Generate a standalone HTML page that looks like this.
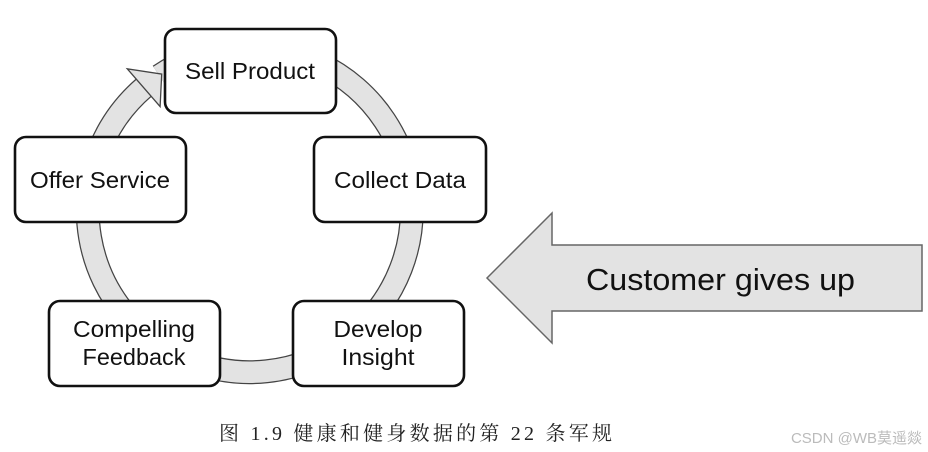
<!DOCTYPE html>
<html><head><meta charset="utf-8"><style>
body{margin:0;background:#fff;width:928px;height:452px;overflow:hidden}
</style></head><body>
<svg width="928" height="452" xmlns="http://www.w3.org/2000/svg" style="position:absolute;left:0;top:0">
<path d="M159.4,75.7 A162,162 0 1 1 143.7,87.7" fill="none" stroke="#444" stroke-width="24"/>
<path d="M159.4,75.7 A162,162 0 1 1 143.7,87.7" fill="none" stroke="#e3e3e3" stroke-width="21.5"/>
<polygon points="160.1,106.6 127.3,68.8 161.7,74.1" fill="#e3e3e3" stroke="#444" stroke-width="1.3" stroke-linejoin="miter"/>
<g fill="#fff" stroke="#111" stroke-width="2.6">
<rect x="165" y="29" width="171" height="84" rx="11"/>
<rect x="15" y="137" width="171" height="85" rx="11"/>
<rect x="314" y="137" width="172" height="85" rx="11"/>
<rect x="49" y="301" width="171" height="85" rx="11"/>
<rect x="293" y="301" width="171" height="85" rx="11"/>
</g>
<g font-family="Liberation Sans, sans-serif" font-size="23" fill="#111" text-anchor="middle" lengthAdjust="spacingAndGlyphs">
<text x="250" y="79" textLength="130" lengthAdjust="spacingAndGlyphs">Sell Product</text>
<text x="100" y="188" textLength="140" lengthAdjust="spacingAndGlyphs">Offer Service</text>
<text x="400" y="188" textLength="132" lengthAdjust="spacingAndGlyphs">Collect Data</text>
<text x="134" y="337" textLength="122" lengthAdjust="spacingAndGlyphs">Compelling</text>
<text x="134" y="365" textLength="103" lengthAdjust="spacingAndGlyphs">Feedback</text>
<text x="378" y="337" textLength="89" lengthAdjust="spacingAndGlyphs">Develop</text>
<text x="378" y="365" textLength="73" lengthAdjust="spacingAndGlyphs">Insight</text>
</g>
<polygon points="487,278 552,213 552,245 922,245 922,311 552,311 552,343" fill="#e3e3e3" stroke="#666" stroke-width="1.5"/>
<text x="586" y="290" font-family="Liberation Sans, sans-serif" font-size="31" fill="#111" textLength="269" lengthAdjust="spacingAndGlyphs">Customer gives up</text>
<text x="219" y="440" font-family="Liberation Serif, Noto Serif CJK SC, serif" font-size="20" fill="#222" textLength="393" lengthAdjust="spacing">图  1.9  健康和健身数据的第  22  条军规</text>
<text x="922" y="443" font-family="Liberation Sans, Noto Sans CJK SC, sans-serif" font-size="15" fill="#bbb" text-anchor="end">CSDN @WB莫遥燚</text>
</svg>
</body></html>
